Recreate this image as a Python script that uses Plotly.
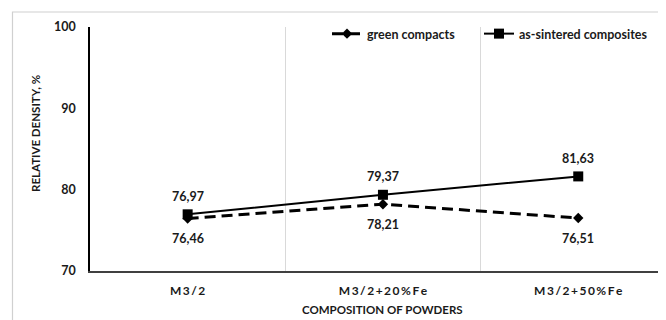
import plotly.graph_objects as go

categories = ["M3/2", "M3/2+20%Fe", "M3/2+50%Fe"]
green_compacts = [76.46, 78.21, 76.51]
as_sintered = [76.97, 79.37, 81.63]
y_ticks = [70, 80, 90, 100]

FONT = "Lato"
OFF = 8  # page body margin in the browser
W, H = 666 - OFF, 320 - OFF
# plot area in window pixels: left 90, top 27, bottom 271, right beyond 666
L, T = 90 - OFF, 27 - OFF
B = H - (271 - OFF)
R = 0
pw, ph = W - L - R, H - T - B

def px_x(x):  # window pixel -> paper x
    return (x - OFF - L) / pw

def px_y(y):  # window pixel -> paper y
    return 1 - (y - OFF - T) / ph

xs = list(range(len(categories)))
spaced = ["\u2009".join(list(c)) for c in categories]

def fmt(v):
    return "<b>" + f"{v:.2f}".replace(".", ",") + "</b>"

fig = go.Figure()
fig.add_trace(go.Scatter(
    x=xs, y=green_compacts, name="<b>green compacts</b>", mode="lines+markers",
    line=dict(color="black", width=3, dash="11px,6px"),
    marker=dict(symbol="diamond", size=8, color="black"),
    legend="legend",
))
fig.add_trace(go.Scatter(
    x=xs, y=as_sintered, name="<b>as-sintered composites</b>", mode="lines+markers",
    line=dict(color="black", width=2),
    marker=dict(symbol="square", size=10, color="black"),
    legend="legend2",
))

annotations = []
for x, v in zip(xs, as_sintered):
    annotations.append(dict(x=x, y=v, text=fmt(v), showarrow=False, yshift=18,
                            font=dict(family=FONT, size=12.5, color="#1a1a1a"), xref="x", yref="y"))
for x, v in zip(xs, green_compacts):
    annotations.append(dict(x=x, y=v, text=fmt(v), showarrow=False, yshift=-20,
                            font=dict(family=FONT, size=12.5, color="#1a1a1a"), xref="x", yref="y"))

# axis titles
annotations.append(dict(text="<b>COMPOSITION OF POWDERS</b>", showarrow=False,
                        xref="paper", yref="paper", x=px_x(382), y=px_y(309),
                        xanchor="center", yanchor="middle",
                        font=dict(family=FONT, size=11.5, color="#1a1a1a")))
annotations.append(dict(text="<b>RELATIVE DENSITY, %</b>", showarrow=False, textangle=-90,
                        xref="paper", yref="paper", x=px_x(35), y=px_y(134),
                        xanchor="center", yanchor="middle",
                        font=dict(family=FONT, size=11.5, color="#1a1a1a")))

shapes = [dict(type="rect", xref="paper", yref="paper",
               x0=px_x(12.5), x1=1.2, y0=-0.5, y1=px_y(12),
               line=dict(color="#d0d0d0", width=1.2), fillcolor="rgba(0,0,0,0)", layer="below")]

legend_common = dict(orientation="h", xanchor="left", y=px_y(34), yanchor="middle",
                     font=dict(family=FONT, size=12.5, color="#1a1a1a"),
                     bgcolor="rgba(0,0,0,0)", itemwidth=30)

fig.update_layout(
    width=W, height=H,
    margin=dict(l=L, r=R, t=T, b=B, autoexpand=False),
    paper_bgcolor="white", plot_bgcolor="white",
    font=dict(family=FONT, size=12, color="#1a1a1a"),
    showlegend=True,
    legend=dict(x=px_x(327), **legend_common),
    legend2=dict(x=px_x(479), **legend_common),
    annotations=annotations,
    shapes=shapes,
)
fig.update_xaxes(
    range=[-0.5, -0.5 + pw / 195.3], tickmode="array", tickvals=xs, ticktext=spaced,
    showgrid=False, zeroline=False, showline=True, linecolor="#404040", linewidth=1.5,
    ticks="", ticklabelstandoff=8, automargin=False,
    tickfont=dict(family=FONT, size=12, color="#1a1a1a", weight="bold"),
    minor=dict(tickmode="array", tickvals=[i + 0.5 for i in xs[:-1]], showgrid=True,
               gridcolor="#d9d9d9", gridwidth=1, ticks=""),
)
fig.update_yaxes(
    range=[70, 100], tickmode="array", tickvals=y_ticks,
    showgrid=False, zeroline=False, showline=True, linecolor="black", linewidth=1.5,
    ticks="", ticklabelstandoff=10, automargin=False,
    tickfont=dict(family=FONT, size=12.5, color="#1a1a1a", weight="bold"),
)

fig.write_html("out.html")
